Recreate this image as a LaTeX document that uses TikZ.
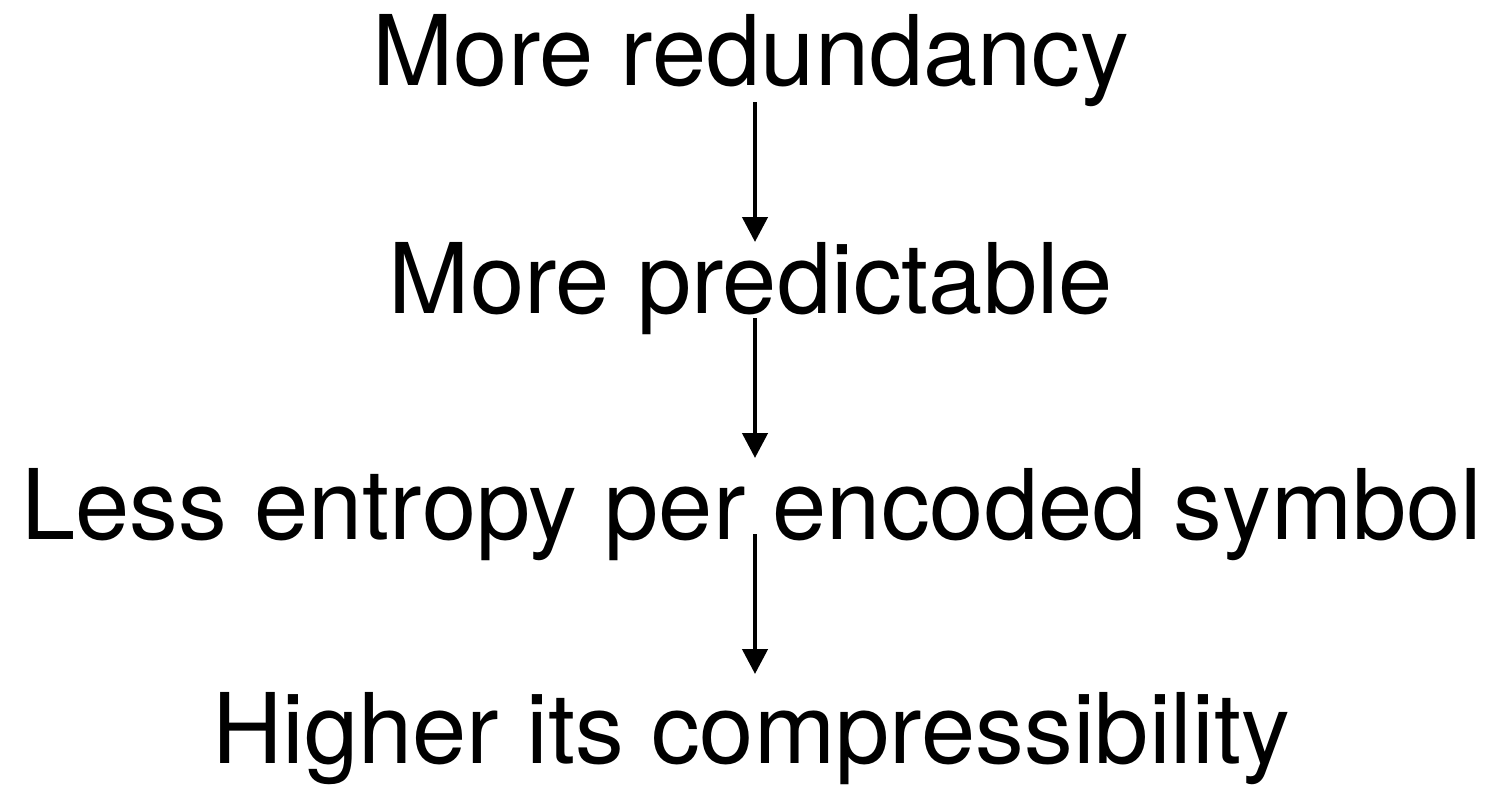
\documentclass[tikz,border=0pt]{standalone}
\usepackage{fontspec}
\setmainfont{TeX Gyre Heros}
\usetikzlibrary{arrows.meta}

\begin{document}
\begin{tikzpicture}[x=1pt, y=1pt,
  stage/.style={inner sep=0pt, anchor=base, font=\fontsize{97.5}{100}\selectfont},
  flow/.style={line width=4.5pt, -{Triangle[length=25pt, width=25pt]}}]
\useasboundingbox (0, 0) rectangle (1498, -784);

\node[stage] (1) at (751, -85) {More redundancy};
\node[stage] (2) at (751, -313) {More predictable};
\node[stage] (3) at (752, -539) {Less entropy per encoded symbol};
\node[stage] (4) at (751, -763) {Higher its compressibility};

\draw[flow] ([shift={(4, -17)}]1.base) -- ([shift={(4, 71)}]2.base);
\draw[flow] ([shift={(4, -5)}]2.base) -- ([shift={(3, 81)}]3.base);
\draw[flow] ([shift={(3, 5)}]3.base) -- ([shift={(4, 89)}]4.base);
\end{tikzpicture}
\end{document}
